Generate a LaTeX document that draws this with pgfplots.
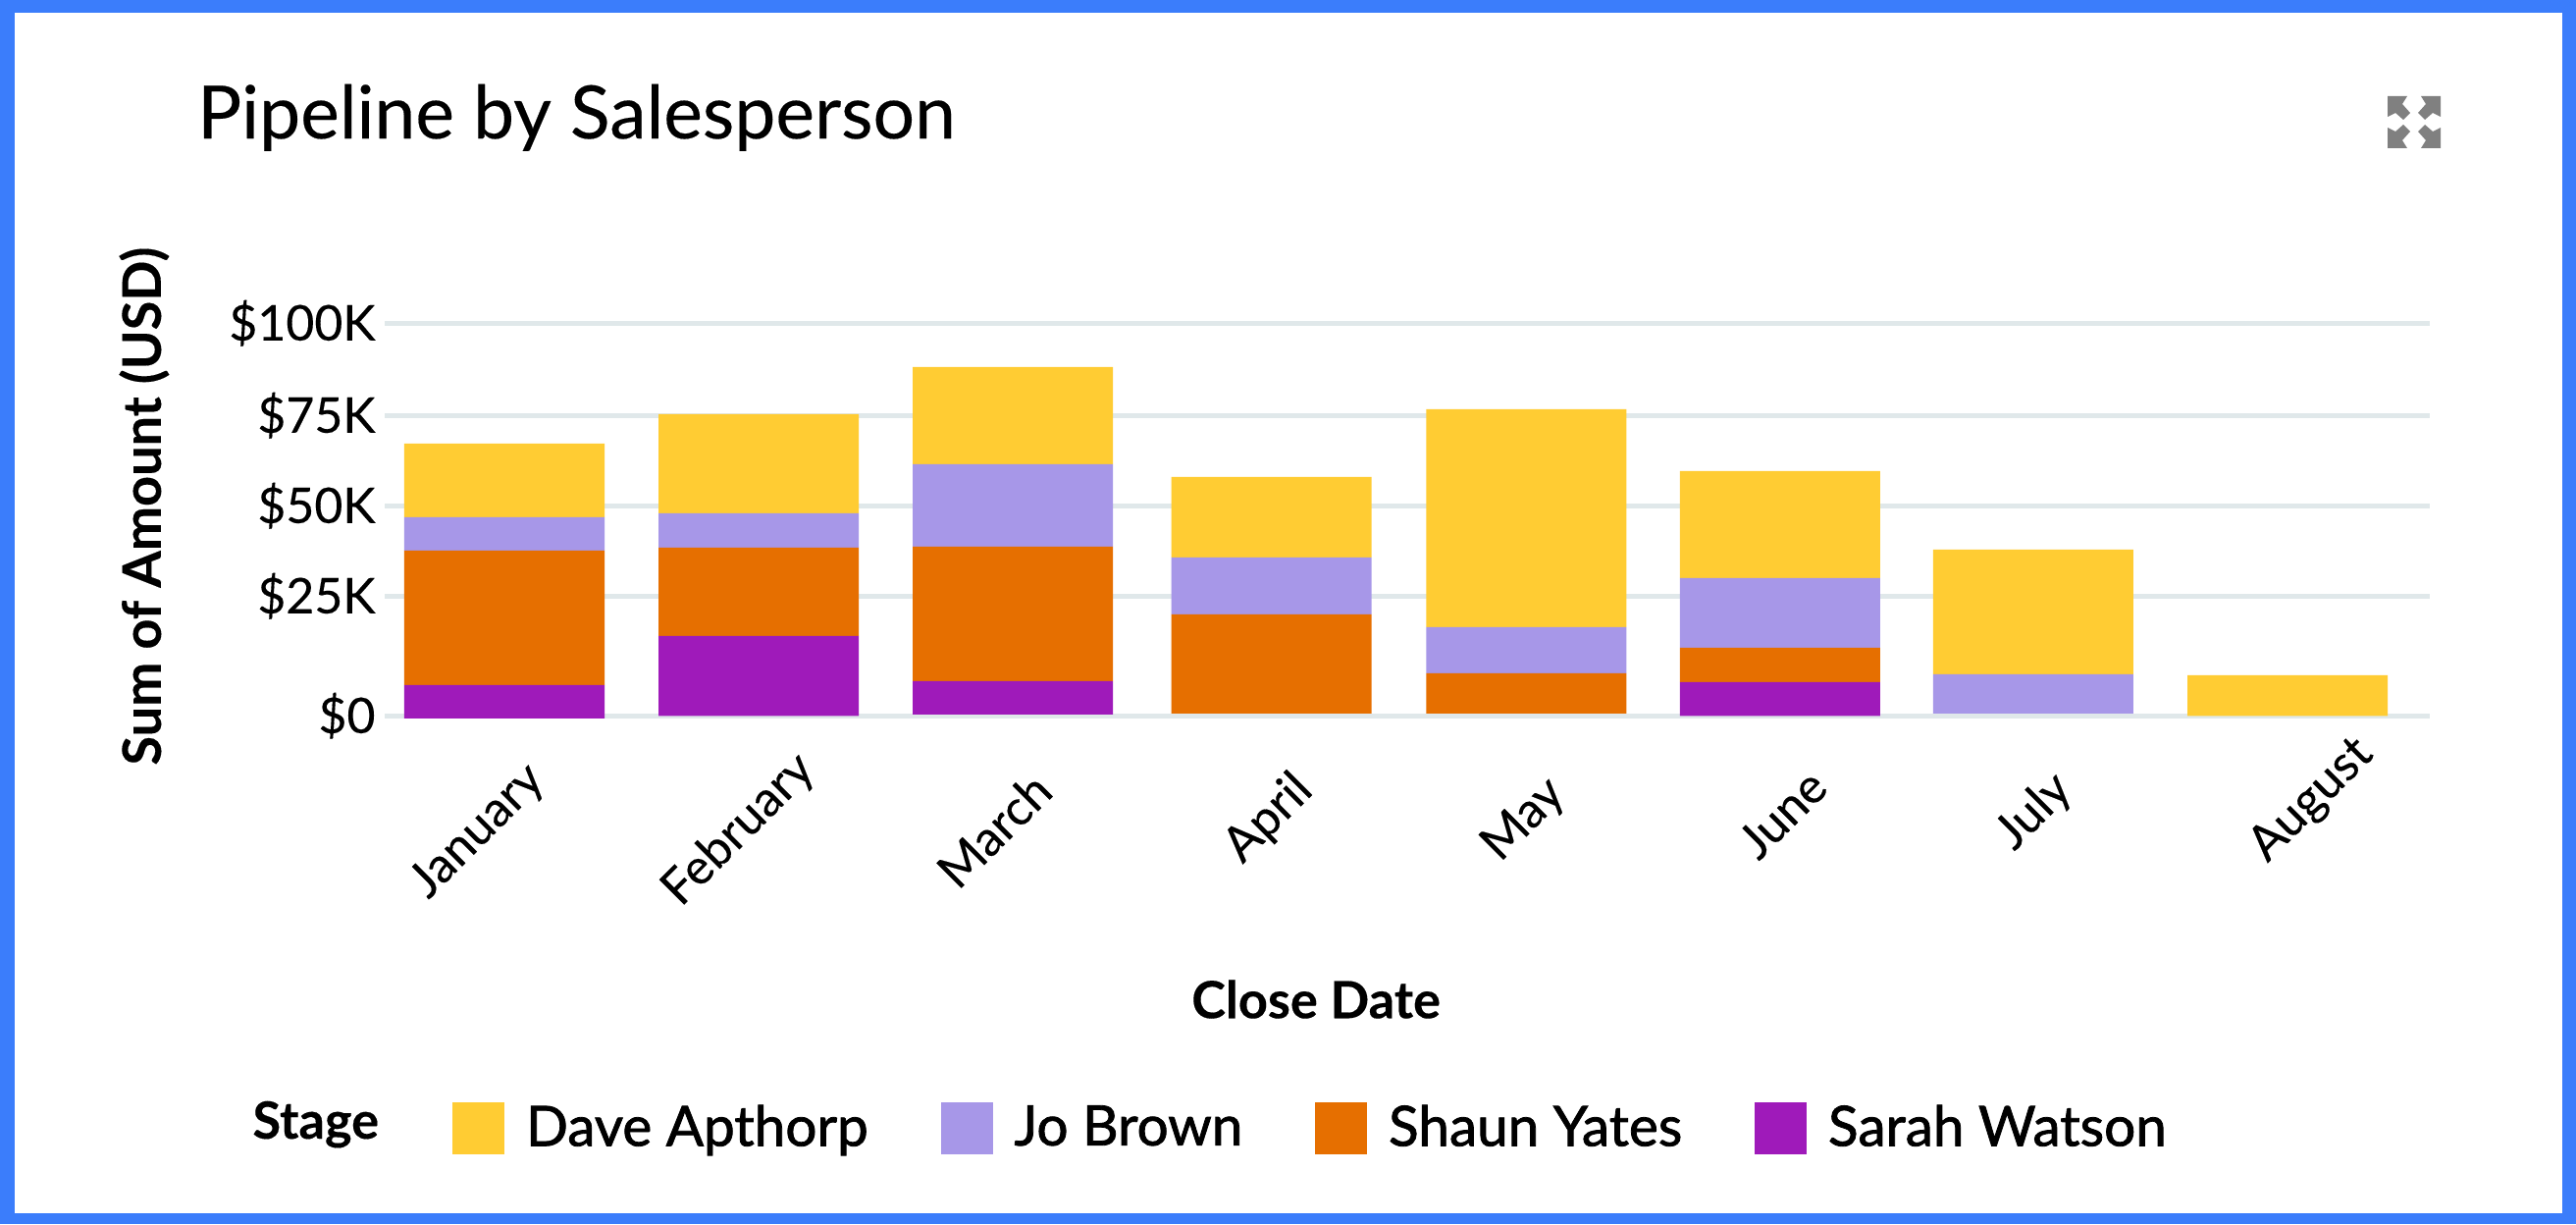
\documentclass[border=0pt]{standalone}
\usepackage{fontspec}
\setmainfont{Lato}[RawFeature={embolden=0.25}]
\newfontfamily\legendfont{Lato}[RawFeature={embolden=1.4}]
\usepackage{pgfplots}
\usepackage{pgfplotstable}
\pgfplotsset{compat=1.18}

\definecolor{frameblue}{HTML}{3B7DFB}
\definecolor{gridc}{HTML}{E0E8EA}
\definecolor{dave}{HTML}{FFCC33}
\definecolor{jo}{HTML}{A797E8}
\definecolor{shaun}{HTML}{E66F00}
\definecolor{sarah}{HTML}{9F1ABA}

% one reference pixel
\def\px{0.4pt}
\newcommand{\fs}[1]{\fontsize{#1}{#1}\selectfont}

% values in $K; the reference's $0 line sits lower than the 25K spacing
% would put it, so the ticks below are not evenly spaced
% base = small offset of each bar's foot from the zero line
\pgfplotstableread{
x      base   sarah  shaun  jo     dave
0      -0.73  9.24   37.23  9.24   20.38
0.998  0      22.09  24.46  9.51   27.45
1.996  0.35   9.24   37.23  22.83  26.90
3.011  0.63   0      27.45  15.76  22.28
4.012  0.63   0      11.14  12.77  60.33
5.008  0      9.32   9.51   19.29  29.62
6.002  0.63   0      0      10.87  34.51
7      0      0      0      0      11.22
}\pipeline

\begin{document}
\begin{tikzpicture}
\path[use as bounding box] (0,0) rectangle (2625*\px,1247*\px);
\fill[frameblue] (0,0) rectangle (2625*\px,1247*\px);
\fill[white] (15*\px,11*\px) rectangle (2611*\px,1234*\px);

\begin{axis}[
  at={(392*\px,506.7*\px)},
  anchor=south west,
  scale only axis,
  width=2084*\px,
  height=415.84*\px,
  xmin=-0.47, xmax=7.5586,
  ymin=-3, ymax=110,
  ybar stacked,
  stack negative=on previous,
  bar width=81.6pt,
  axis line style={draw=none},
  major tick length=0pt,
  ymajorgrids,
  major grid style={draw=gridc, line width=2pt},
  ytick={0,33.15,58.15,83.15,108.7},
  yticklabels={\$0,\$25K,\$50K,\$75K,\$100K},
  yticklabel style={font=\fs{20}, anchor=east, xshift=-3.6pt, inner sep=0pt},
  xtick={-0.104,0.921,1.922,3.001,4.003,5.016,6.006,7.096},
  xticklabels={January,February,March,April,May,June,July,August},
  % the month labels do not sit on one level in the reference
  xticklabel style={font=\fs{20},
    /utils/exec={\pgfmathparse{{-42.8,-42.15,-42.15,-37.5,-38.1,-35.45,-34.8,-30.1}[\ticknum]}\global\let\labelshift\pgfmathresult},
    yshift=\labelshift pt, rotate=45, anchor=center},
  title={Pipeline by Salesperson},
  title style={at={(axis description cs:0.0938,1.405)}, anchor=base, font=\fs{30}, inner sep=0pt},
  xlabel={Close Date},
  xlabel style={at={(axis description cs:0.4554,-0.668)}, anchor=center, font=\fs{20.9}\bfseries, inner sep=0pt},
  ylabel={Sum of Amount (USD)},
  ylabel style={at={(axis description cs:-0.1176,0.540)}, anchor=center, font=\fs{21.6}\bfseries, inner sep=0pt},
  reverse legend,
  legend columns=4,
  legend cell align=left,
  legend image code/.code={\fill[#1] (0,-28*\px) rectangle (53*\px,25*\px);},
  legend style={
    at={(axis description cs:0.0331,-0.985)}, anchor=west,
    draw=none, fill=none, inner sep=0pt, outer sep=0pt,
    font=\fs{22.66}\legendfont,
    nodes={inner sep=0pt},
    /tikz/every odd column/.append style={column sep=8.8pt},
    /tikz/every even column/.append style={column sep=29.5pt},
  },
]
\addplot[draw=none, fill=none, forget plot] table[x=x, y=base] {\pipeline};
\addplot[draw=none, fill=sarah] table[x=x, y=sarah] {\pipeline};
\addlegendentry{Sarah Watson}
\addplot[draw=none, fill=shaun] table[x=x, y=shaun] {\pipeline};
\addlegendentry{Shaun Yates}
\addplot[draw=none, fill=jo] table[x=x, y=jo] {\pipeline};
\addlegendentry{Jo Brown}
\addplot[draw=none, fill=dave] table[x=x, y=dave] {\pipeline};
\addlegendentry{Dave Apthorp}
\end{axis}

\node[anchor=base west, inner sep=0pt, font=\fs{20.9}\bfseries] at (257*\px,87*\px) {Stage};

% expand icon, top right
\foreach \sx/\sy in {1/1,-1/1,1/-1,-1/-1}{
  \begin{scope}[shift={(2460*\px,1122.5*\px)}, x=\px, y=\px, xscale=\sx, yscale=\sy]
    \fill[gray] (-27,26.5) -- (-7,26.5) -- (-12,18.5) -- (-4,9.5) -- (-11,2.5) -- (-19,9.5) -- (-27,5.5) -- cycle;
  \end{scope}
}
\end{tikzpicture}
\end{document}
